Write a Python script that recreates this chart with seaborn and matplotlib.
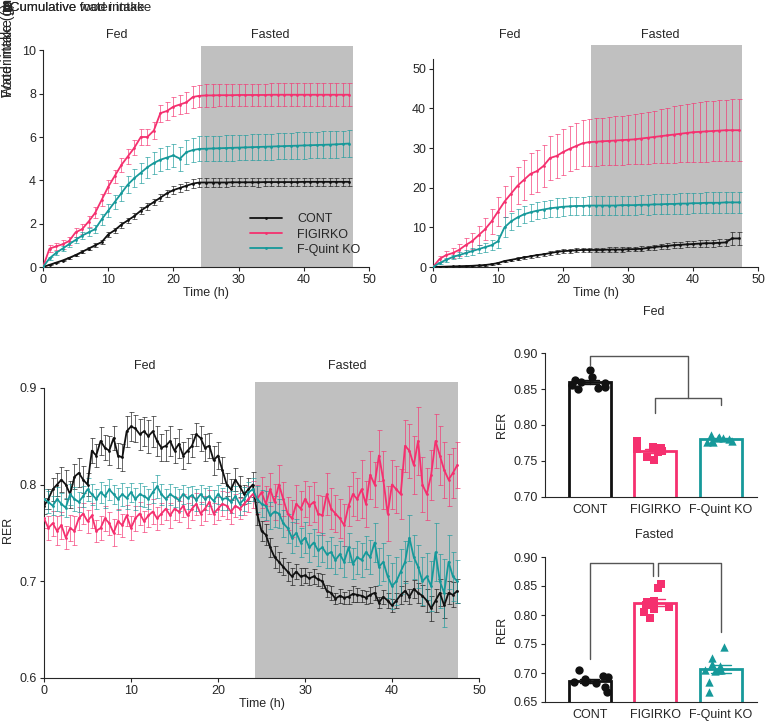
import numpy as np
import pandas as pd
import seaborn as sns
import matplotlib
matplotlib.use("Agg")
import matplotlib.pyplot as plt

sns.set_style("ticks")
plt.rcParams['font.family'] = ['Liberation Sans', 'DejaVu Sans']
plt.rcParams['font.size'] = 9
np.random.seed(3)  # fixed jitter for the strip points

W, H = 769, 726
groups = ["CONT", "FIGIRKO", "F-Quint KO"]
colors = {"CONT": "#111111", "FIGIRKO": "#F5306F", "F-Quint KO": "#16999A"}
shade = "#C0C0C0"

# ---- cumulative food intake (g), hourly ----
food_cont = [0.00, 0.10, 0.20, 0.30, 0.42, 0.55, 0.70, 0.85, 1.00, 1.15, 1.50, 1.70, 1.95, 2.15, 2.35,
             2.60, 2.80, 3.00, 3.20, 3.40, 3.55, 3.65, 3.75, 3.85, 3.90, 3.90, 3.90, 3.90, 3.90, 3.91,
             3.91, 3.91, 3.91, 3.91, 3.92, 3.92, 3.92, 3.92, 3.92, 3.92, 3.93, 3.93, 3.93, 3.93, 3.93,
             3.93, 3.93, 3.93]
food_cont_se = [0, 0.02, 0.03, 0.04, 0.05, 0.06, 0.07, 0.08, 0.09, 0.10, 0.11, 0.12, 0.13, 0.13, 0.14,
                0.15, 0.15, 0.16, 0.16, 0.17, 0.17, 0.18, 0.18, 0.19, 0.19, 0.19, 0.19, 0.19, 0.19, 0.19,
                0.19, 0.19, 0.19, 0.20, 0.20, 0.20, 0.20, 0.20, 0.20, 0.20, 0.20, 0.20, 0.20, 0.20, 0.20,
                0.20, 0.20, 0.20]
food_figirko = [0.00, 0.85, 0.95, 1.05, 1.20, 1.60, 1.75, 2.10, 2.50, 3.10, 3.70, 4.20, 4.70, 5.10, 5.50,
                6.00, 6.00, 6.30, 7.10, 7.20, 7.40, 7.50, 7.60, 7.85, 7.90, 7.92, 7.92, 7.93, 7.93, 7.93,
                7.94, 7.94, 7.94, 7.94, 7.94, 7.95, 7.95, 7.95, 7.95, 7.95, 7.95, 7.95, 7.95, 7.95, 7.95,
                7.95, 7.95, 7.95]
food_figirko_se = [0, 0.15, 0.18, 0.20, 0.20, 0.22, 0.22, 0.24, 0.25, 0.27, 0.30, 0.30, 0.32, 0.33, 0.35,
                   0.36, 0.36, 0.38, 0.40, 0.42, 0.44, 0.46, 0.48, 0.50, 0.52, 0.52, 0.52, 0.52, 0.52, 0.52,
                   0.52, 0.52, 0.52, 0.52, 0.52, 0.53, 0.53, 0.53, 0.53, 0.53, 0.53, 0.53, 0.53, 0.53, 0.53,
                   0.53, 0.53, 0.53]
food_fquint = [0.00, 0.40, 0.65, 0.85, 1.05, 1.25, 1.45, 1.60, 1.75, 2.20, 2.60, 3.00, 3.40, 3.80, 4.10,
               4.35, 4.60, 4.80, 4.95, 5.05, 5.15, 5.00, 5.30, 5.40, 5.45, 5.46, 5.47, 5.48, 5.49, 5.50,
               5.51, 5.52, 5.53, 5.54, 5.55, 5.56, 5.57, 5.58, 5.59, 5.60, 5.61, 5.62, 5.63, 5.64, 5.65,
               5.66, 5.68, 5.70]
food_fquint_se = [0, 0.08, 0.10, 0.12, 0.14, 0.15, 0.16, 0.18, 0.20, 0.25, 0.30, 0.33, 0.36, 0.40, 0.42,
                  0.45, 0.48, 0.50, 0.52, 0.53, 0.54, 0.55, 0.56, 0.57, 0.58, 0.58, 0.58, 0.58, 0.59, 0.59,
                  0.59, 0.59, 0.60, 0.60, 0.60, 0.60, 0.60, 0.61, 0.61, 0.61, 0.61, 0.61, 0.62, 0.62, 0.62,
                  0.62, 0.62, 0.62]

# ---- cumulative water intake (ml), hourly ----
water_cont = [0, 0.05, 0.10, 0.15, 0.20, 0.25, 0.30, 0.40, 0.50, 0.70, 1.00, 1.50, 1.80, 2.10, 2.40,
              2.70, 3.00, 3.20, 3.50, 3.80, 4.00, 4.10, 4.20, 4.30, 4.30, 4.30, 4.30, 4.40, 4.40, 4.40,
              4.50, 4.50, 4.60, 4.80, 5.00, 5.20, 5.30, 5.50, 5.60, 5.70, 5.80, 5.90, 6.00, 6.00, 6.10,
              6.20, 7.20, 7.20]
water_cont_se = [0, 0.05, 0.05, 0.08, 0.10, 0.10, 0.12, 0.15, 0.18, 0.20, 0.25, 0.30, 0.30, 0.35, 0.35,
                 0.40, 0.40, 0.42, 0.45, 0.45, 0.48, 0.50, 0.50, 0.50, 0.50, 0.50, 0.50, 0.52, 0.52, 0.55,
                 0.55, 0.58, 0.60, 0.62, 0.65, 0.68, 0.70, 0.72, 0.75, 0.78, 0.80, 0.82, 0.85, 0.88, 0.90,
                 0.95, 1.70, 1.70]
water_figirko = [0, 2.0, 3.0, 3.5, 4.3, 5.5, 6.5, 8.0, 9.5, 11.5, 14.0, 16.5, 18.5, 20.5, 22.0,
                 23.5, 24.2, 25.5, 27.5, 28.0, 29.0, 29.8, 30.5, 31.2, 31.5, 31.6, 31.7, 31.8, 31.9, 32.0,
                 32.1, 32.2, 32.4, 32.6, 32.8, 33.0, 33.2, 33.4, 33.6, 33.8, 34.0, 34.1, 34.2, 34.3, 34.4,
                 34.5, 34.5, 34.5]
water_figirko_se = [0, 0.8, 1.0, 1.2, 1.5, 1.8, 2.0, 2.4, 2.8, 3.2, 3.6, 4.0, 4.4, 4.7, 5.0,
                    5.2, 5.3, 5.4, 5.5, 5.6, 5.7, 5.7, 5.8, 5.8, 5.9, 6.0, 6.0, 6.1, 6.1, 6.2,
                    6.2, 6.3, 6.4, 6.5, 6.6, 6.8, 7.0, 7.1, 7.2, 7.3, 7.4, 7.5, 7.6, 7.6, 7.7,
                    7.7, 7.8, 7.8]
water_fquint = [0, 1.0, 1.8, 2.5, 3.0, 3.5, 4.0, 4.5, 5.0, 5.5, 6.5, 10.0, 11.5, 12.5, 13.3,
                13.8, 14.2, 14.5, 14.8, 15.0, 15.2, 15.3, 15.4, 15.4, 15.5, 15.5, 15.5, 15.5, 15.5, 15.6,
                15.6, 15.6, 15.7, 15.7, 15.8, 15.8, 15.9, 15.9, 16.0, 16.0, 16.1, 16.1, 16.2, 16.2, 16.2,
                16.3, 16.3, 16.3]
water_fquint_se = [0, 0.3, 0.5, 0.6, 0.7, 0.8, 0.9, 1.0, 1.1, 1.3, 1.6, 2.5, 2.2, 2.2, 2.2,
                   2.2, 2.2, 2.2, 2.2, 2.3, 2.3, 2.3, 2.3, 2.3, 2.3, 2.3, 2.3, 2.3, 2.4, 2.4,
                   2.4, 2.4, 2.4, 2.5, 2.5, 2.5, 2.5, 2.5, 2.6, 2.6, 2.6, 2.6, 2.6, 2.7, 2.7,
                   2.7, 2.7, 2.7]

# ---- RER, every 0.5 h ----
rer_cont = [0.778, 0.785, 0.795, 0.800, 0.805, 0.800, 0.790, 0.808, 0.812, 0.805,
            0.800, 0.835, 0.830, 0.845, 0.838, 0.835, 0.848, 0.830, 0.828, 0.855,
            0.860, 0.858, 0.852, 0.855, 0.850, 0.855, 0.845, 0.838, 0.840, 0.845,
            0.835, 0.842, 0.830, 0.835, 0.840, 0.852, 0.848, 0.838, 0.840, 0.825,
            0.830, 0.815, 0.800, 0.795, 0.805, 0.798, 0.790, 0.795, 0.800, 0.770,
            0.752, 0.748, 0.735, 0.725, 0.720, 0.715, 0.710, 0.705, 0.710, 0.705,
            0.706, 0.703, 0.705, 0.702, 0.700, 0.690, 0.688, 0.682, 0.685, 0.683,
            0.684, 0.687, 0.686, 0.685, 0.683, 0.686, 0.688, 0.678, 0.684, 0.680,
            0.675, 0.680, 0.686, 0.690, 0.684, 0.692, 0.688, 0.685, 0.680, 0.672,
            0.680, 0.688, 0.675, 0.688, 0.686, 0.690]
rer_cont_se = [0.008, 0.010, 0.012, 0.012, 0.013, 0.015, 0.014, 0.013, 0.015, 0.014,
               0.012, 0.013, 0.012, 0.014, 0.013, 0.015, 0.012, 0.013, 0.014, 0.016,
               0.015, 0.014, 0.016, 0.015, 0.017, 0.016, 0.015, 0.014, 0.016, 0.015,
               0.013, 0.015, 0.014, 0.013, 0.012, 0.012, 0.013, 0.014, 0.013, 0.015,
               0.014, 0.013, 0.012, 0.011, 0.012, 0.011, 0.010, 0.012, 0.013, 0.012,
               0.010, 0.011, 0.010, 0.011, 0.010, 0.009, 0.010, 0.009, 0.008, 0.009,
               0.008, 0.007, 0.008, 0.007, 0.007, 0.006, 0.007, 0.006, 0.007, 0.006,
               0.007, 0.008, 0.007, 0.006, 0.007, 0.008, 0.007, 0.006, 0.007, 0.008,
               0.007, 0.008, 0.009, 0.010, 0.008, 0.009, 0.010, 0.011, 0.012, 0.013,
               0.012, 0.014, 0.013, 0.012, 0.013, 0.012]
rer_figirko = [0.765, 0.755, 0.760, 0.752, 0.758, 0.745, 0.755, 0.752, 0.765, 0.770,
               0.762, 0.768, 0.752, 0.755, 0.765, 0.760, 0.750, 0.762, 0.758, 0.768,
               0.755, 0.765, 0.770, 0.762, 0.768, 0.772, 0.765, 0.770, 0.775, 0.768,
               0.775, 0.772, 0.778, 0.768, 0.775, 0.780, 0.770, 0.775, 0.782, 0.770,
               0.775, 0.780, 0.778, 0.772, 0.778, 0.775, 0.780, 0.785, 0.790, 0.785,
               0.792, 0.780, 0.795, 0.782, 0.800, 0.785, 0.770, 0.765, 0.780, 0.775,
               0.785, 0.778, 0.782, 0.770, 0.768, 0.790, 0.775, 0.770, 0.765, 0.758,
               0.778, 0.790, 0.785, 0.795, 0.780, 0.810, 0.800, 0.830, 0.805, 0.770,
               0.800, 0.795, 0.790, 0.840, 0.835, 0.820, 0.845, 0.800, 0.790, 0.810,
               0.845, 0.830, 0.815, 0.805, 0.812, 0.820]
rer_figirko_se = [0.010, 0.012, 0.013, 0.015, 0.014, 0.012, 0.013, 0.015, 0.012, 0.011,
                  0.012, 0.013, 0.011, 0.012, 0.013, 0.012, 0.014, 0.013, 0.012, 0.011,
                  0.012, 0.013, 0.012, 0.011, 0.012, 0.013, 0.012, 0.011, 0.012, 0.013,
                  0.012, 0.011, 0.012, 0.013, 0.012, 0.011, 0.012, 0.013, 0.012, 0.011,
                  0.012, 0.013, 0.014, 0.013, 0.012, 0.011, 0.012, 0.013, 0.014, 0.015,
                  0.016, 0.018, 0.017, 0.019, 0.020, 0.018, 0.017, 0.019, 0.020, 0.018,
                  0.019, 0.020, 0.021, 0.019, 0.020, 0.022, 0.021, 0.019, 0.020, 0.022,
                  0.021, 0.023, 0.022, 0.030, 0.024, 0.025, 0.023, 0.026, 0.030, 0.028,
                  0.025, 0.024, 0.026, 0.027, 0.028, 0.030, 0.035, 0.028, 0.027, 0.026,
                  0.028, 0.030, 0.029, 0.027, 0.026, 0.024]
rer_fquint = [0.785, 0.782, 0.778, 0.785, 0.780, 0.776, 0.790, 0.785, 0.782, 0.788,
              0.795, 0.790, 0.785, 0.792, 0.788, 0.795, 0.790, 0.785, 0.790, 0.786,
              0.792, 0.785, 0.790, 0.788, 0.785, 0.792, 0.798, 0.790, 0.785, 0.790,
              0.787, 0.784, 0.790, 0.786, 0.789, 0.784, 0.790, 0.785, 0.788, 0.783,
              0.790, 0.785, 0.786, 0.782, 0.788, 0.780, 0.785, 0.792, 0.795, 0.785,
              0.780, 0.778, 0.768, 0.772, 0.770, 0.760, 0.755, 0.745, 0.750, 0.740,
              0.745, 0.735, 0.740, 0.732, 0.735, 0.728, 0.730, 0.722, 0.728, 0.720,
              0.735, 0.718, 0.725, 0.722, 0.730, 0.725, 0.740, 0.715, 0.720, 0.705,
              0.695, 0.700, 0.710, 0.720, 0.745, 0.725, 0.715, 0.700, 0.705, 0.695,
              0.730, 0.700, 0.688, 0.720, 0.705, 0.700]
rer_fquint_se = [0.010, 0.011, 0.010, 0.012, 0.011, 0.010, 0.011, 0.012, 0.010, 0.011,
                 0.012, 0.011, 0.010, 0.011, 0.012, 0.011, 0.010, 0.011, 0.012, 0.011,
                 0.010, 0.011, 0.012, 0.011, 0.010, 0.011, 0.012, 0.011, 0.010, 0.011,
                 0.010, 0.011, 0.010, 0.011, 0.010, 0.011, 0.010, 0.011, 0.010, 0.011,
                 0.010, 0.011, 0.012, 0.011, 0.010, 0.011, 0.012, 0.011, 0.012, 0.013,
                 0.014, 0.015, 0.014, 0.016, 0.015, 0.014, 0.015, 0.016, 0.014, 0.015,
                 0.016, 0.015, 0.014, 0.016, 0.015, 0.014, 0.016, 0.015, 0.014, 0.016,
                 0.015, 0.016, 0.017, 0.018, 0.017, 0.018, 0.020, 0.019, 0.020, 0.022,
                 0.024, 0.025, 0.023, 0.022, 0.024, 0.023, 0.022, 0.025, 0.024, 0.026,
                 0.030, 0.028, 0.035, 0.028, 0.025, 0.022]

# ---- per-animal mean RER ----
fed_cont = [0.866, 0.852, 0.860, 0.877, 0.853, 0.858, 0.862, 0.850, 0.856]
fed_figirko = [0.770, 0.778, 0.751, 0.768, 0.756, 0.764, 0.764, 0.766, 0.762]
fed_fquint = [0.786, 0.782, 0.778, 0.780, 0.784, 0.776, 0.782, 0.778, 0.776]
fasted_cont = [0.705, 0.690, 0.667, 0.693, 0.682, 0.676, 0.695, 0.684, 0.684]
fasted_figirko = [0.854, 0.847, 0.794, 0.805, 0.822, 0.825, 0.817, 0.822, 0.811, 0.814]
fasted_fquint = [0.744, 0.726, 0.716, 0.705, 0.667, 0.684, 0.705, 0.705, 0.712, 0.703]

fasting_start, fasting_end = 24.3, 47.6


def box(l, t, r, b):
    return [l / W, 1 - b / H, (r - l) / W, (b - t) / H]


def ftext(x, y, s, **kw):
    fig.text(x / W, 1 - y / H, s, ha='center', va='center', fontsize=9, **kw)


fig = plt.figure(figsize=(W / 100, H / 100), dpi=100)


def time_panel(ax, series, step):
    ax.axvspan(fasting_start, fasting_end, color=shade, lw=0, zorder=0)
    for name, vals, se in series:
        t = np.arange(len(vals)) * step
        c = colors[name]
        ax.errorbar(t, vals, yerr=se, fmt='none', ecolor=c, elinewidth=0.6,
                    capsize=1.8, capthick=0.6, alpha=0.75, zorder=2)
        sns.lineplot(x=t, y=vals, color=c, marker='o', markersize=2, markeredgewidth=0,
                     linewidth=1.3, label=name, ax=ax, zorder=3)
    ax.set_xlim(0, 50)
    ax.set_xticks([0, 10, 20, 30, 40, 50])
    ax.set_xlabel("Time (h)", labelpad=1)
    ax.set_ylabel("")
    sns.despine(ax=ax)
    ax.tick_params(length=3, width=0.8, labelsize=9, pad=2)


# panel A: food intake
axA = fig.add_axes(box(43, 46, 369, 267))
time_panel(axA, [("CONT", food_cont, food_cont_se),
                 ("FIGIRKO", food_figirko, food_figirko_se),
                 ("F-Quint KO", food_fquint, food_fquint_se)], 1.0)
axA.set_ylim(0, 10.2)
axA.spines['left'].set_bounds(0, 10)
axA.set_yticks([0, 2, 4, 6, 8, 10])
axA.legend(loc='lower left', bbox_to_anchor=(0.6, 0.0), frameon=False, fontsize=9,
           handlelength=2.6, handletextpad=1.2, labelspacing=0.25)

# panel B: water intake
axB = fig.add_axes(box(433, 45, 758, 267))
time_panel(axB, [("CONT", water_cont, water_cont_se),
                 ("FIGIRKO", water_figirko, water_figirko_se),
                 ("F-Quint KO", water_fquint, water_fquint_se)], 1.0)
axB.set_ylim(0, 56)
axB.spines['left'].set_bounds(0, 52.5)
axB.set_yticks([0, 10, 20, 30, 40, 50])
axB.get_legend().remove()

# panel C: RER time course
axC = fig.add_axes(box(44, 382, 479, 678))
time_panel(axC, [("CONT", rer_cont, rer_cont_se),
                 ("FIGIRKO", rer_figirko, rer_figirko_se),
                 ("F-Quint KO", rer_fquint, rer_fquint_se)], 0.5)
axC.set_ylim(0.6, 0.906)
axC.spines['left'].set_bounds(0.6, 0.9)
axC.set_yticks([0.6, 0.7, 0.8, 0.9])
axC.set_ylabel("RER", labelpad=4)
axC.get_legend().remove()

# overlapping headers as in the source
fig.text(2 / W, 1 - 8 / H, "A", fontsize=10, fontweight='bold', va='center')
fig.text(2 / W, 1 - 8 / H, "B", fontsize=10, fontweight='bold', va='center')
fig.text(10 / W, 1 - 8 / H, "Cumulative food intake", fontsize=9.5, va='center')
fig.text(10 / W, 1 - 8 / H, "Cumulative water intake", fontsize=9.5, va='center')
fig.text(1 / W, 1 - 97 / H, "Food intake (g)", rotation=90, fontsize=10, va='bottom')
fig.text(1 / W, 1 - 97 / H, "Water intake (ml)", rotation=90, fontsize=10, va='bottom')

ftext(117, 35, "Fed")
ftext(270, 35, "Fasted")
ftext(510, 35, "Fed")
ftext(660, 35, "Fasted")
ftext(145, 366, "Fed")
ftext(347, 366, "Fasted")

markers = {"CONT": "o", "FIGIRKO": "s", "F-Quint KO": "^"}


def bar_panel(ax, vals, ylim, yticks, title_y, title):
    df = pd.DataFrame({"group": np.repeat(groups, [len(v) for v in vals]),
                       "RER": np.concatenate(vals)})
    sns.barplot(data=df, x="group", y="RER", hue="group", order=groups, hue_order=groups,
                palette=colors, fill=False, errorbar="se", capsize=0.3, width=0.64,
                linewidth=2, err_kws={"linewidth": 1}, legend=False, ax=ax)
    for g in groups:
        sns.stripplot(data=df[df.group == g], x="group", y="RER", order=groups,
                      color=colors[g], marker=markers[g], size=6, jitter=0.3,
                      ax=ax, zorder=4)
    ax.set_xlim(-0.68, 2.55)
    ax.set_ylim(*ylim)
    ax.set_yticks(yticks)
    ax.set_yticklabels([f"{v:.2f}" for v in yticks])
    ax.set_xlabel("")
    ax.set_ylabel("RER", labelpad=4)
    sns.despine(ax=ax)
    ax.tick_params(axis='y', length=3, width=0.8, labelsize=9, pad=2)
    ax.tick_params(axis='x', length=0, labelsize=9, pad=5)
    ftext(654, title_y, title)


axD = fig.add_axes(box(545, 353, 757, 497))
bar_panel(axD, [fed_cont, fed_figirko, fed_fquint], (0.70, 0.90),
          [0.70, 0.75, 0.80, 0.85, 0.90], 312, "Fed")
bk = dict(color="#555555", lw=1, clip_on=False)
axD.plot([0, 0, 1.5, 1.5], [0.884, 0.896, 0.896, 0.8375], **bk)
axD.plot([1, 1, 2, 2], [0.817, 0.8375, 0.8375, 0.828], **bk)

axE = fig.add_axes(box(545, 557, 757, 702))
bar_panel(axE, [fasted_cont, fasted_figirko, fasted_fquint], (0.65, 0.90),
          [0.65, 0.70, 0.75, 0.80, 0.85, 0.90], 535, "Fasted")
axE.plot([0, 0, 0.96, 0.96], [0.725, 0.890, 0.890, 0.867], **bk)
axE.plot([1.04, 1.04, 2, 2], [0.867, 0.890, 0.890, 0.771], **bk)

fig.savefig("out.png", dpi=100)
